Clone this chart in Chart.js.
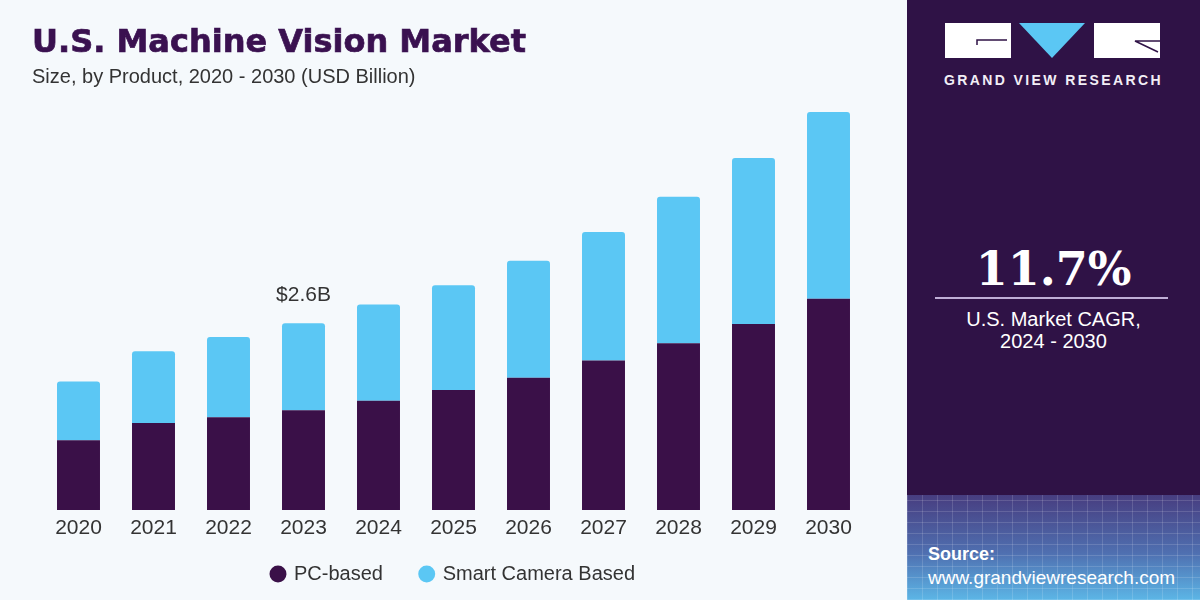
<!DOCTYPE html>
<html>
<head>
<meta charset="utf-8">
<script src="https://cdn.jsdelivr.net/npm/chart.js@4.4.1/dist/chart.umd.min.js"></script>
<style>
  body{margin:0;width:1200px;height:600px;overflow:hidden;background:#f5f9fc;position:relative;font-family:"Liberation Sans",Arial,sans-serif}
  #title{position:absolute;left:32px;top:23px;font:bold 32px/36px "DejaVu Sans",sans-serif;color:#3a1150;-webkit-text-stroke:0.7px #3a1150;white-space:nowrap;z-index:2}
  #subtitle{position:absolute;left:32px;top:64px;font:20px/24px "Liberation Sans",Arial,sans-serif;color:#333;white-space:nowrap;z-index:2}
  #chartBox{position:absolute;left:0;top:0;width:907px;height:600px}
  #panel{position:absolute;left:907px;top:0;width:293px;height:600px;background:#2f1246;overflow:hidden;color:#fff}
  #grid{position:absolute;left:0;top:495px;width:293px;height:105px;
    background:
      repeating-linear-gradient(90deg,rgba(255,255,255,.14) 0 1px,transparent 1px 15px),
      repeating-linear-gradient(0deg,rgba(255,255,255,.14) 0 1px,transparent 1px 11px),
      linear-gradient(180deg,#473d80 0%,#4f6fb0 55%,#5cb6e6 100%)}
  #logo{position:absolute;left:38px;top:23px}
  #brand{position:absolute;left:0;width:293px;top:72px;text-align:center;font:bold 14px/16px "Liberation Sans",Arial,sans-serif;letter-spacing:2.4px;color:#f2eef6}
  #cagr{position:absolute;left:0;width:293px;top:244px;text-align:center;font:bold 46px/50px "DejaVu Serif",serif}
  #rule{position:absolute;left:28px;width:233px;top:297px;height:2px;background:#bfaed6}
  #cagrLabel{position:absolute;left:0;width:293px;top:308px;text-align:center;font:20px/22px "Liberation Sans",Arial,sans-serif}
  #srcHead{position:absolute;left:21px;top:544px;font:bold 18px/20px "Liberation Sans",Arial,sans-serif;z-index:2}
  #srcUrl{position:absolute;left:21px;top:567px;font:19px/22px "Liberation Sans",Arial,sans-serif;z-index:2}
</style>
</head>
<body>
<div id="title">U.S. Machine Vision Market</div>
<div id="subtitle">Size, by Product, 2020 - 2030 (USD Billion)</div>
<div id="chartBox"><canvas id="chart" width="907" height="600"></canvas></div>
<div id="panel">
  <svg id="logo" width="216" height="36" viewBox="0 0 216 36">
    <rect x="0" y="0" width="66" height="35" fill="#fff"/>
    <path d="M32 22 V17 H62" stroke="#2f1246" stroke-width="1.5" fill="none"/>
    <polygon points="74,0 140,0 107,35" fill="#5bc7f4"/>
    <rect x="149" y="0" width="66" height="35" fill="#fff"/>
    <path d="M215 18 H190 L213 29" stroke="#2f1246" stroke-width="1.5" fill="none"/>
  </svg>
  <div id="brand">GRAND VIEW RESEARCH</div>
  <div id="cagr">11.7%</div>
  <div id="rule"></div>
  <div id="cagrLabel">U.S. Market CAGR,<br>2024 - 2030</div>
  <div id="grid"></div>
  <div id="srcHead">Source:</div>
  <div id="srcUrl">www.grandviewresearch.com</div>
</div>
<script>
// chart data (USD Billion)
const years = ["2020","2021","2022","2023","2024","2025","2026","2027","2028","2029","2030"];
const pcBased = [0.97, 1.21, 1.29, 1.39, 1.52, 1.67, 1.84, 2.08, 2.32, 2.59, 2.94];
const smartCamera = [0.82, 1.00, 1.12, 1.21, 1.34, 1.46, 1.63, 1.79, 2.04, 2.31, 2.60];
const seriesNames = ["PC-based", "Smart Camera Based"];
const seriesColors = ["#3a1048", "#5bc7f4"];
const calloutYear = "2023";
const calloutText = "$2.6B";
const yMax = 6;

const calloutPlugin = {
  id: "callout",
  afterDatasetsDraw(chart){
    const i = years.indexOf(calloutYear);
    const bar = chart.getDatasetMeta(1).data[i];
    if(!bar) return;
    const ctx = chart.ctx;
    ctx.save();
    ctx.font = '21px "Liberation Sans", Arial, sans-serif';
    ctx.fillStyle = "#333";
    ctx.textAlign = "center";
    ctx.textBaseline = "alphabetic";
    ctx.fillText(calloutText, bar.x, bar.y - 22);
    ctx.restore();
  }
};

// wider gap after the first legend item, legend stays one short row
function legendLabels(chart){
  const items = Chart.defaults.plugins.legend.labels.generateLabels(chart);
  items.forEach((it, i) => { if(i < items.length - 1) it.text += "\u00a0".repeat(5); });
  return items;
}

new Chart(document.getElementById("chart"), {
  type: "bar",
  data: {
    labels: years,
    datasets: [
      { label: seriesNames[0], data: pcBased, backgroundColor: seriesColors[0], borderRadius: 0 },
      { label: seriesNames[1], data: smartCamera, backgroundColor: seriesColors[1],
        borderRadius: {topLeft: 3, topRight: 3, bottomLeft: 0, bottomRight: 0} }
    ]
  },
  options: {
    responsive: false,
    animation: false,
    devicePixelRatio: 1,
    barPercentage: 1,
    categoryPercentage: 0.573,
    layout: { padding: { left: 41, right: 41, top: 79, bottom: 6 } },
    scales: {
      x: {
        stacked: true,
        grid: { display: false, drawTicks: false },
        border: { display: false },
        ticks: { color: "#333", padding: 6, font: { size: 21, family: '"Liberation Sans", Arial, sans-serif' } },
        afterFit: (scale) => { scale.height = 44; }
      },
      y: { stacked: true, display: false, min: 0, max: yMax }
    },
    plugins: {
      legend: {
        position: "bottom",
        labels: {
          usePointStyle: true, pointStyle: "circle",
          boxWidth: 12, boxHeight: 12, padding: 10,
          color: "#333",
          font: { size: 20, family: '"Liberation Sans", Arial, sans-serif' },
          generateLabels: legendLabels
        }
      },
      tooltip: { enabled: false }
    }
  },
  plugins: [calloutPlugin]
});
</script>
</body>
</html>
